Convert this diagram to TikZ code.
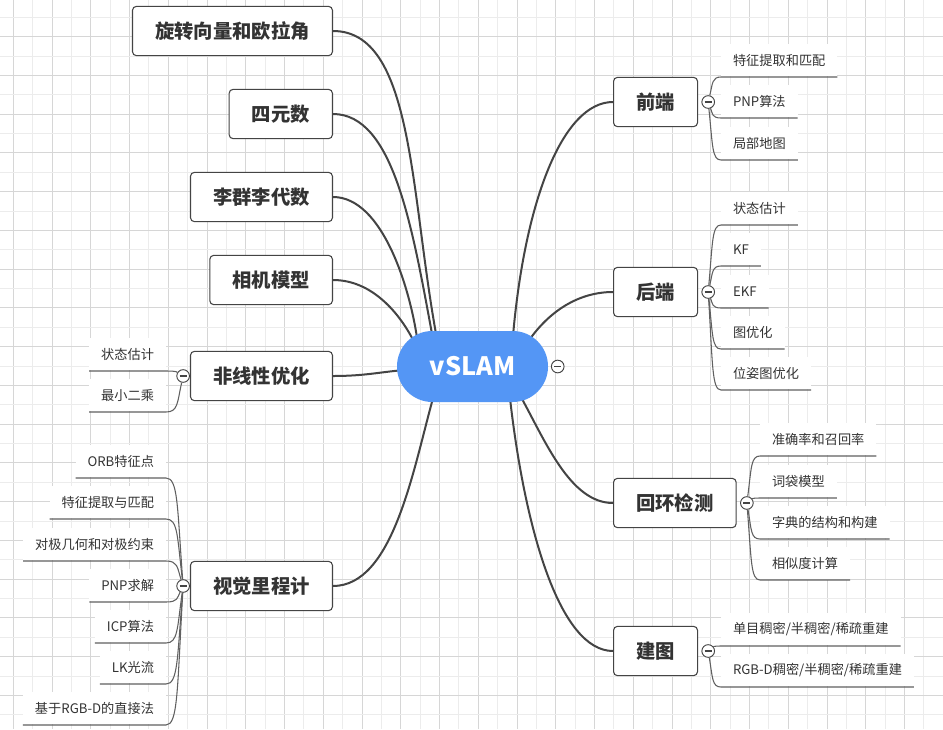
\documentclass[tikz,border=0pt]{standalone}
\usepackage{fontspec}
\setmainfont{Noto Sans CJK SC}
\usetikzlibrary{positioning,calc}
\definecolor{rootblue}{RGB}{84,150,245}
\definecolor{inkgray}{RGB}{68,68,68}
\definecolor{txtgray}{RGB}{51,51,51}
\definecolor{gridmajc}{RGB}{214,214,214}
\definecolor{gridminc}{RGB}{236,236,236}
\pgfdeclarelayer{grid}
\pgfdeclarelayer{edges}
\pgfsetlayers{grid,edges,main}

\tikzset{
  topic/.style={draw=inkgray,line width=0.8pt,rounded corners=3pt,fill=white,text=txtgray,
    font=\fontsize{14.5}{17}\selectfont\bfseries,minimum height=37pt,inner xsep=17pt},
  root/.style={fill=rootblue,rounded corners=26.5pt,text=white,
    font=\fontsize{19}{22}\selectfont\bfseries,minimum width=113.25pt,minimum height=53.25pt},
  leaf/.style={fill=white,text=txtgray,font=\fontsize{9.9}{12}\selectfont,
    minimum height=24pt,inner xsep=9pt,inner ysep=0pt,outer sep=0pt,outer ysep=0.45pt},
  knob/.style={circle,draw=inkgray,fill=white,line width=0.7pt,minimum size=9.5pt,inner sep=0pt,
    path picture={\draw[line width=0.8pt] ([xshift=-2.6pt]path picture bounding box.center)
      -- ([xshift=2.6pt]path picture bounding box.center);}},
  branch/.style={draw=inkgray,line width=1.5pt},
  twig/.style={draw=inkgray!85,line width=0.8pt,
    to path={let \p1=(\tikztostart),\p2=(\tikztotarget) in
      .. controls ({\x1+0.35*(\x2-\x1)},{\y1+0.75*(\y2-\y1)}) and ({\x1+0.3*(\x2-\x1)},\y2) .. (\tikztotarget)}},
  gridmaj/.style={draw=gridmajc,line width=0.75pt},
  gridmin/.style={draw=gridminc,line width=0.75pt}
}

\begin{document}
\begin{tikzpicture}[x=0.75pt,y=-0.75pt]
\useasboundingbox (0,0) rectangle (943,729);
% background grid
\begin{pgfonlayer}{grid}
  \fill[white] (0,0) rectangle (943,729);
  \foreach \i in {0,...,24} {
    \draw[gridmaj] ({13.3+38.75*\i},0) -- ++(0,729);
    \draw[gridmin] ({32.7+38.75*\i},0) -- ++(0,729);
  }
  \foreach \j in {0,...,19} {
    \draw[gridmaj] (0,{-2.1+38.75*\j}) -- ++(943,0);
    \draw[gridmin] (0,{17.3+38.75*\j}) -- ++(943,0);
  }
\end{pgfonlayer}

% centre
\node[root] (root) at (472.5,366.5) {vSLAM};
\node[knob,right=2pt of root] (kroot) {};

% left topics
\node[topic,anchor=east] (rot) at (333,31) {旋转向量和欧拉角};
\node[topic,anchor=east] (quat) at (333,114) {四元数};
\node[topic,anchor=east] (lie) at (333,197) {李群李代数};
\node[topic,anchor=east] (cam) at (333,280) {相机模型};
\node[topic,anchor=east] (nlo) at (333,376) {非线性优化};
\node[topic,anchor=east] (vo) at (333,586) {视觉里程计};

% right topics
\node[topic,anchor=west] (fe) at (613,102) {前端};
\node[topic,anchor=west] (be) at (613,292) {后端};
\node[topic,anchor=west] (lc) at (613,503) {回环检测};
\node[topic,anchor=west] (map) at (613,651) {建图};

% knobs
\node[knob,left=0pt of nlo] (knlo) {};
\node[knob,left=0pt of vo] (kvo) {};
\node[knob,right=2.5pt of fe] (kfe) {};
\node[knob,right=2.5pt of be] (kbe) {};
\node[knob,right=2.5pt of lc] (klc) {};
\node[knob,right=2.5pt of map] (kmap) {};

% leaves
\node[leaf,anchor=south east] (nlo1) at (166,371) {状态估计};
\node[leaf,anchor=south east] (nlo2) at (166,412) {最小二乘};

\node[leaf,anchor=south east] (vo1) at (166,478) {ORB特征点};
\node[leaf,anchor=south east] (vo2) at (166,519) {特征提取与匹配};
\node[leaf,anchor=south east] (vo3) at (166,561) {对极几何和对极约束};
\node[leaf,anchor=south east] (vo4) at (166,602) {PNP求解};
\node[leaf,anchor=south east] (vo5) at (166,643) {ICP算法};
\node[leaf,anchor=south east] (vo6) at (166,684) {LK光流};
\node[leaf,anchor=south east] (vo7) at (166,725) {基于RGB-D的直接法};

\node[leaf,anchor=south west] (fe1) at (721,77) {特征提取和匹配};
\node[leaf,anchor=south west] (fe2) at (721,118) {PNP算法};
\node[leaf,anchor=south west] (fe3) at (721,160) {局部地图};

\node[leaf,anchor=south west] (be1) at (721,225) {状态估计};
\node[leaf,anchor=south west] (be2) at (721,266) {KF};
\node[leaf,anchor=south west] (be3) at (721,308) {EKF};
\node[leaf,anchor=south west] (be4) at (721,349) {图优化};
\node[leaf,anchor=south west] (be5) at (721,390) {位姿图优化};

\node[leaf,anchor=south west] (lc1) at (760,456) {准确率和召回率};
\node[leaf,anchor=south west] (lc2) at (760,498) {词袋模型};
\node[leaf,anchor=south west] (lc3) at (760,539) {字典的结构和构建};
\node[leaf,anchor=south west] (lc4) at (760,580) {相似度计算};

\node[leaf,anchor=south west] (map1) at (721,646) {单目稠密/半稠密/稀疏重建};
\node[leaf,anchor=south west] (map2) at (721,687) {RGB-D稠密/半稠密/稀疏重建};

\begin{pgfonlayer}{edges}
  % branches from the centre
  \draw[branch] (rot.east) .. controls +(80,0) and +(-26,-144) .. ($(root.north)+(-36.5,3)$);
  \draw[branch] (quat.east) .. controls +(60,0) and +(-20,-108) .. ($(root.north)+(-40.5,3)$);
  \draw[branch] (lie.east) .. controls +(50,0) and +(-7,-48) .. ($(root.north)+(-55.5,7)$);
  \draw[branch] (cam.east) .. controls +(40,0) and +(-13,-25) .. ($(root.north)+(-59.5,9)$);
  \draw[branch] (nlo.east) .. controls +(32,0) and +(-25,2) .. ($(root.west)+(8,3.5)$);
  \draw[branch] (vo.east) .. controls +(60,0) and +(-20,72) .. ($(root.south)+(-39.5,-4)$);
  \draw[branch] (fe.west) .. controls +(-50,0) and +(12,-136) .. ($(root.north)+(40.5,5)$);
  \draw[branch] (be.west) .. controls +(-33,0) and +(22,-32) .. ($(root.north)+(55.5,11)$);
  \draw[branch] (lc.west) .. controls +(-43,0) and +(25,45) .. ($(root.south)+(47.5,-7)$);
  \draw[branch] (map.west) .. controls +(-53,0) and +(15,132) .. ($(root.south)+(37.5,-4)$);

  % twigs to the leaves
  \foreach \l in {nlo1,nlo2}
    \draw[twig] (knlo) to (\l.south east) -- (\l.south west);
  \foreach \l in {vo1,vo2,vo3,vo4,vo5,vo6,vo7}
    \draw[twig] (kvo) to (\l.south east) -- (\l.south west);
  \foreach \l in {fe1,fe2,fe3}
    \draw[twig] (kfe) to (\l.south west) -- (\l.south east);
  \foreach \l in {be1,be2,be3,be4,be5}
    \draw[twig] (kbe) to (\l.south west) -- (\l.south east);
  \foreach \l in {lc1,lc2,lc3,lc4}
    \draw[twig] (klc) to (\l.south west) -- (\l.south east);
  \foreach \l in {map1,map2}
    \draw[twig] (kmap) to (\l.south west) -- (\l.south east);
\end{pgfonlayer}
\end{tikzpicture}
\end{document}
